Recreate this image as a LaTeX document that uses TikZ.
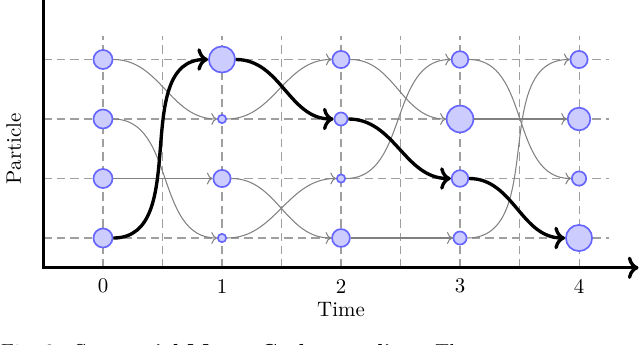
\documentclass[tikz,border=0pt]{standalone}
\usepackage{tikz}
\usetikzlibrary{arrows.meta}

\begin{document}
\begin{tikzpicture}[
  particle/.style = {circle, draw=blue!60, fill=blue!20, thick, inner sep=0pt},
  guide/.style = {draw=gray!75, dash pattern=on 4pt off 2.4pt, line width=0.5pt},
  axis/.style = {line width=1.6pt},
  resample/.style = {->, draw=gray, line width=0.5pt},
  chosen/.style = {->, line width=1.6pt},
]
\useasboundingbox (-1.731,-1.782) rectangle (9.025,4.0);
\clip (-1.731,-1.782) rectangle (9.025,4.0);

% ---------- dashed grid and axes ----------
\draw[guide] (-1,-0.5) grid[xstep=1, ystep=1] (8.5,3.4);
\coordinate (corner) at (-1,-0.5);
\draw[axis, <->] (-1,4.4) -- (corner) -- (9,-0.5);

\node (t0) at (0,-0.81) {0};
\node (t1) at (2,-0.81) {1};
\node (t2) at (4,-0.81) {2};
\node (t3) at (6,-0.81) {3};
\node (t4) at (8,-0.81) {4};
\node (time) at (4,-1.21) {Time};
\node[rotate=90] (particle) at (-1.5,1.5) {Particle};

% ---------- particles (size ~ weight) ----------
\node[particle, minimum size=3.2mm] (p00) at (0,0) {};
\node[particle, minimum size=3.2mm] (p01) at (0,1) {};
\node[particle, minimum size=3.2mm] (p02) at (0,2) {};
\node[particle, minimum size=3.2mm] (p03) at (0,3) {};

\node[particle, minimum size=1.4mm] (p10) at (2,0) {};
\node[particle, minimum size=2.9mm] (p11) at (2,1) {};
\node[particle, minimum size=1.4mm] (p12) at (2,2) {};
\node[particle, minimum size=4.4mm] (p13) at (2,3) {};

\node[particle, minimum size=3.0mm] (p20) at (4,0) {};
\node[particle, minimum size=1.4mm] (p21) at (4,1) {};
\node[particle, minimum size=2.2mm] (p22) at (4,2) {};
\node[particle, minimum size=2.9mm] (p23) at (4,3) {};

\node[particle, minimum size=2.2mm] (p30) at (6,0) {};
\node[particle, minimum size=2.8mm] (p31) at (6,1) {};
\node[particle, minimum size=4.5mm] (p32) at (6,2) {};
\node[particle, minimum size=2.8mm] (p33) at (6,3) {};

\node[particle, minimum size=4.4mm] (p40) at (8,0) {};
\node[particle, minimum size=2.4mm] (p41) at (8,1) {};
\node[particle, minimum size=3.8mm] (p42) at (8,2) {};
\node[particle, minimum size=2.9mm] (p43) at (8,3) {};

% ---------- resampling (ancestor -> offspring) ----------
\draw[resample] (p03) to[out=0, in=180] (p12);
\draw[resample] (p02) to[out=0, in=180] (p10);
\draw[resample] (p01) to[out=0, in=180] (p11);

\draw[resample] (p12) to[out=0, in=180] (p23);
\draw[resample] (p11) to[out=0, in=180] (p20);
\draw[resample] (p10) to[out=0, in=180] (p21);

\draw[resample] (p23) to[out=0, in=180] (p32);
\draw[resample] (p21) to[out=0, in=180] (p33);
\draw[resample] (p20) to[out=0, in=180] (p30);

\draw[resample] (p33) to[out=0, in=180] (p41);
\draw[resample] (p32) to[out=0, in=180] (p42);
\draw[resample] (p30) to[out=0, in=180] (p43);

% the surviving lineage
\draw[chosen] (p00) to[out=0, in=180] (p13);
\draw[chosen] (p13) to[out=0, in=180] (p22);
\draw[chosen] (p22) to[out=0, in=180] (p31);
\draw[chosen] (p31) to[out=0, in=180] (p40);

% ---------- caption (cut off by the frame) ----------
\node[anchor=base west, inner sep=0pt, scale=0.97] (caption) at (-1.72,-2.02)
  {Fig. 2:\ \ \textbf{Sequential Monte Carlo sampling.}\ \ The};

\end{tikzpicture}
\end{document}
